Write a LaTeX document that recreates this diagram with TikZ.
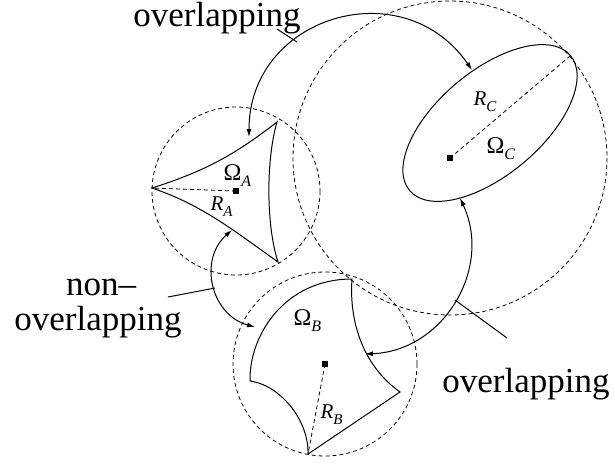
\documentclass[tikz,border=0pt]{standalone}
\usepackage{fontspec}
\setmainfont{Liberation Serif}
\usetikzlibrary{arrows.meta, positioning}

\newcommand{\omlab}[1]{{\fontsize{24}{24}\selectfont Ω}\raisebox{-6pt}{\fontsize{16}{16}\selectfont\itshape #1}}
\newcommand{\radlab}[1]{{\fontsize{21}{21}\selectfont\itshape R}\raisebox{-6pt}{\fontsize{15}{15}\selectfont\itshape #1}}

\begin{document}
\begin{tikzpicture}[x=1pt, y=-1pt, line width=1pt,
    ARR/.style={<->, >={Latex[length=8pt,width=5pt]}},
    rim/.style={line width=0.8pt, dash pattern=on 4pt off 3pt},
    cen/.style={fill=black, minimum size=6pt, inner sep=0pt},
    lab/.style={anchor=base west, inner sep=0pt},
    big/.style={anchor=base, inner sep=0pt, font=\fontsize{35}{35}\selectfont}]
    \useasboundingbox (0,0) rectangle (615,463);
    % centres and their circles
    \node[cen] (cA) at (236,191) {};
    \node[cen] (cB) at (325,364) {};
    \node[cen] (cC) at (450,158) {};
    \draw[rim] (cA.center) circle[radius=84];
    \draw[rim] (cB.center) circle[radius=92];
    \draw[rim] (cC.center) circle[radius=157];
    % domain A
    \coordinate (aL) at (152,188);
    \coordinate (aT) at (277,122);
    \coordinate (aB) at (278,262);
    \draw (aL) .. controls (202,172) and (232,157) .. (aT)
               .. controls (266,160) and (266,225) .. (aB)
               .. controls (233,230) and (202,205) .. cycle;
    % domain B
    \coordinate (bL) at (250,381);
    \coordinate (bT) at (352,279);
    \coordinate (bR) at (400,392);
    \coordinate (bB) at (308,454);
    \draw (bL) .. controls (249,335) and (285,279) .. (bT)
               .. controls (349,320) and (362,365) .. (bR) -- (bB)
               .. controls (309,420) and (280,385) .. cycle;
    % domain C
    \coordinate (eC) at (490,123);
    \coordinate (cTip) at (570,56);
    \draw[rotate around={40:(eC)}] (eC) ellipse[x radius=105, y radius=52];
    % radii
    \draw[rim] (cA.center) -- (aL);
    \draw[rim] (cB.center) -- (bB);
    \draw[rim] (cC.center) -- (cTip);
    \node[lab] (omA) at (223,180) {\omlab{A}};
    \node[lab] (rA) at (210,210) {\radlab{A}};
    \node[lab] (omB) at (293,325) {\omlab{B}};
    \node[lab] (rB) at (320,418) {\radlab{B}};
    \node[lab] (omC) at (486,153) {\omlab{C}};
    \node[lab] (rC) at (473,105) {\radlab{C}};
    % arrows between domains
    \coordinate (pA1) at (249,137);
    \coordinate (pC1) at (472,70);
    \coordinate (pA2) at (232,230);
    \coordinate (pB2) at (255,327);
    \coordinate (pC3) at (460,198);
    \coordinate (pB3) at (365,354);
    \draw[ARR] (pA1) .. controls (249,16) and (403,-30) .. (pC1);
    \draw[ARR] (pA2) .. controls (198,260) and (211,315) .. (pB2);
    \draw[ARR] (pC3) .. controls (493,269) and (443,351) .. (pB3);
    % labels
    \node[big] (ovTop) at (217,26) {overlapping};
    \node[big] (non) at (101,295) {non–};
    \node[big] (ovLeft) at (98,330) {overlapping};
    \node[big] (ovRight) at (526,392) {overlapping};
    \coordinate (lTop) at (277,29);
    \coordinate (kTop) at (297,42);
    \coordinate (lLeft) at (168,297);
    \coordinate (kLeft) at (215,288);
    \coordinate (lRight) at (507,338);
    \coordinate (kRight) at (455,300);
    \draw (lTop) -- (kTop);
    \draw (lLeft) -- (kLeft);
    \draw (lRight) -- (kRight);
\end{tikzpicture}
\end{document}
